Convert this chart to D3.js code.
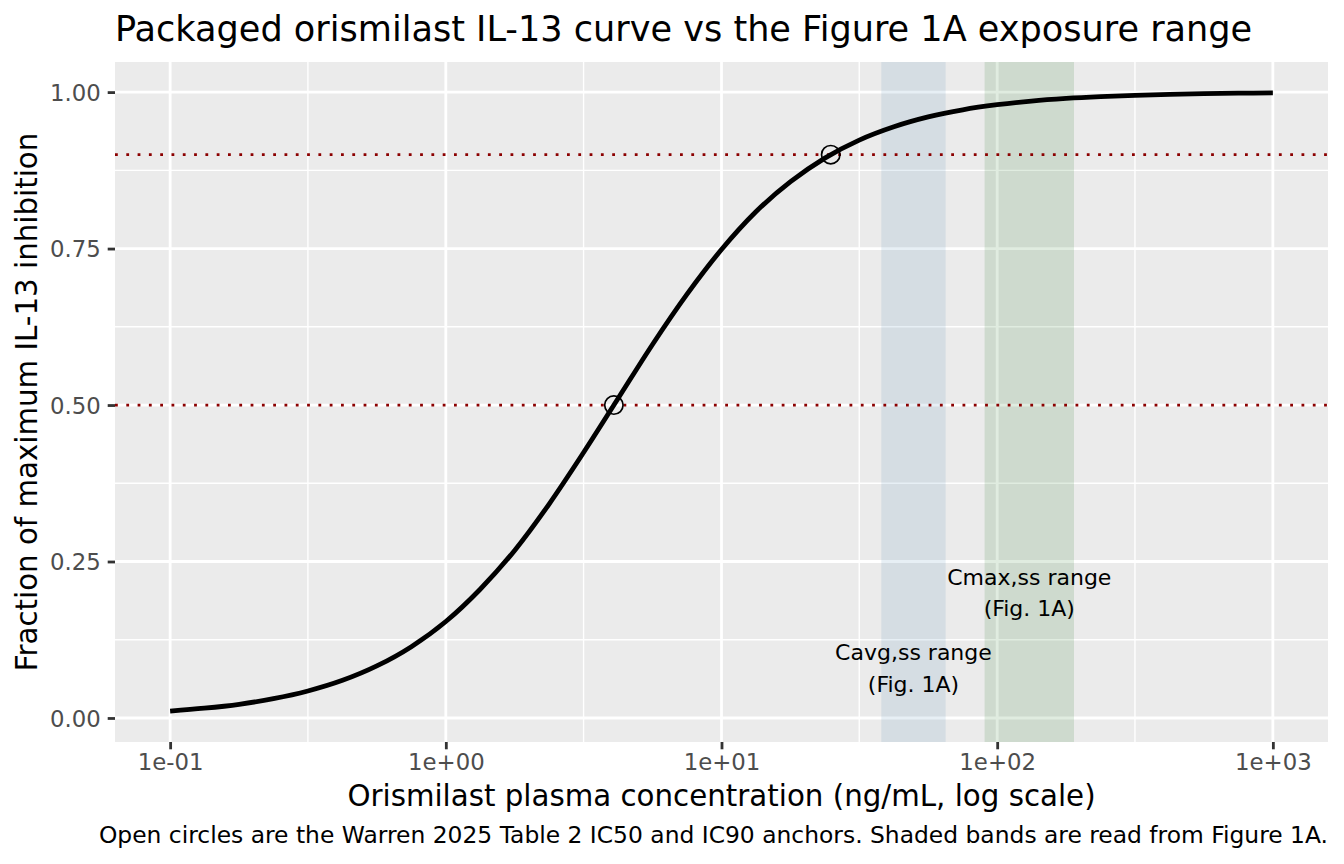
<!DOCTYPE html>
<html>
<head>
<meta charset="utf-8">
<script src="https://cdn.jsdelivr.net/npm/d3@7"></script>
<style>
  body { margin: 0; background: #fff; }
  svg { font-family: "DejaVu Sans", sans-serif; }
</style>
</head>
<body>
<div id="vis"></div>
<script>
// curve (concentration in ng/mL, fraction of max inhibition)
const conc = [0.1, 0.133, 0.178, 0.237, 0.316, 0.422, 0.562, 0.75, 1, 1.33, 1.78, 2.37, 3.16, 4.22,
  5.62, 7.5, 10, 13.3, 17.8, 23.7, 31.6, 42.2, 56.2, 75, 100, 133, 178, 237, 316, 422, 562, 750, 1000]
const inhib = [0.011, 0.0156, 0.0219, 0.0308, 0.0431, 0.0601, 0.0831, 0.1139, 0.1541, 0.2053, 0.2681,
  0.3418, 0.4241, 0.5108, 0.5968, 0.6772, 0.7485, 0.8084, 0.8568, 0.8945, 0.9233, 0.9446, 0.9603,
  0.9717, 0.9798, 0.9857, 0.9899, 0.9928, 0.9949, 0.9964, 0.9975, 0.9982, 0.9987]

// IC50 / IC90 anchors
const anchorConc = [4.07, 24.9]
const anchorFrac = [0.5, 0.9]

// shaded exposure bands from Figure 1A
const bandNames = ["Cavg,ss range", "Cmax,ss range"]
const bandLow = [38, 90]
const bandHigh = [65, 190]
const bandLabelY = [0.08, 0.2]
const bandColors = ["steelblue", "darkgreen"]
const bandAlpha = [0.13, 0.12]

const refLines = [0.5, 0.9]

const xTicks = [0.1, 1, 10, 100, 1000]
const xTickLabels = ["1e-01", "1e+00", "1e+01", "1e+02", "1e+03"]
const xMinor = [0.316, 3.16, 31.6, 316]
const yTicks = [0, 0.25, 0.5, 0.75, 1]
const yTickLabels = ["0.00", "0.25", "0.50", "0.75", "1.00"]
const yMinor = [0.125, 0.375, 0.625, 0.875]

const W = 1344, H = 864
const panel = {left: 115, right: 1328, top: 62, bottom: 742}

const svg = d3.select("#vis").append("svg")
  .attr("width", W).attr("height", H)

//log x with 5% expansion each side
const lx = [Math.log10(d3.min(conc)), Math.log10(d3.max(conc))]
const ex = (lx[1] - lx[0]) * 0.05
const x = d3.scaleLog()
  .domain([Math.pow(10, lx[0] - ex), Math.pow(10, lx[1] + ex)])
  .range([panel.left, panel.right])

const yr = d3.extent(inhib)
const ey = (yr[1] - yr[0]) * 0.05
const y = d3.scaleLinear()
  .domain([yr[0] - ey, yr[1] + ey])
  .range([panel.bottom, panel.top])

//panel background
svg.append("rect")
  .attr("x", panel.left).attr("y", panel.top)
  .attr("width", panel.right - panel.left).attr("height", panel.bottom - panel.top)
  .attr("fill", "#EBEBEB")

const grid = svg.append("g")
grid.selectAll(".xminor").data(xMinor).enter().append("line")
  .attr("x1", d => x(d)).attr("x2", d => x(d))
  .attr("y1", panel.top).attr("y2", panel.bottom)
  .attr("stroke", "#fff").attr("stroke-width", 1.4)
grid.selectAll(".yminor").data(yMinor).enter().append("line")
  .attr("y1", d => y(d)).attr("y2", d => y(d))
  .attr("x1", panel.left).attr("x2", panel.right)
  .attr("stroke", "#fff").attr("stroke-width", 1.4)
grid.selectAll(".xmajor").data(xTicks).enter().append("line")
  .attr("x1", d => x(d)).attr("x2", d => x(d))
  .attr("y1", panel.top).attr("y2", panel.bottom)
  .attr("stroke", "#fff").attr("stroke-width", 2.8)
grid.selectAll(".ymajor").data(yTicks).enter().append("line")
  .attr("y1", d => y(d)).attr("y2", d => y(d))
  .attr("x1", panel.left).attr("x2", panel.right)
  .attr("stroke", "#fff").attr("stroke-width", 2.8)

//bands over the grid, semi transparent
svg.selectAll(".band").data(bandNames).enter().append("rect")
  .attr("x", (d, i) => x(bandLow[i]))
  .attr("width", (d, i) => x(bandHigh[i]) - x(bandLow[i]))
  .attr("y", panel.top).attr("height", panel.bottom - panel.top)
  .attr("fill", (d, i) => bandColors[i])
  .attr("fill-opacity", (d, i) => bandAlpha[i])

//reference lines at IC50 and IC90
svg.selectAll(".ref").data(refLines).enter().append("line")
  .attr("x1", panel.left).attr("x2", panel.right)
  .attr("y1", d => y(d)).attr("y2", d => y(d))
  .attr("stroke", "#8B0000").attr("stroke-width", 2.8)
  .attr("stroke-dasharray", "2.8,8.5")

//band labels, two lines each
const lab = svg.selectAll(".blab").data(bandNames).enter().append("text")
  .attr("text-anchor", "middle")
  .attr("font-size", 22)
  .attr("fill", "#000")
lab.append("tspan")
  .attr("x", (d, i) => x(Math.sqrt(bandLow[i] * bandHigh[i])))
  .attr("y", (d, i) => y(bandLabelY[i]) - 15.8 + 7.8)
  .text(d => d)
lab.append("tspan")
  .attr("x", (d, i) => x(Math.sqrt(bandLow[i] * bandHigh[i])))
  .attr("y", (d, i) => y(bandLabelY[i]) + 15.8 + 7.8)
  .text("(Fig. 1A)")

//curve
const line = d3.line()
  .x((d, i) => x(conc[i]))
  .y((d, i) => y(inhib[i]))
  .curve(d3.curveMonotoneX)
svg.append("path")
  .datum(conc)
  .attr("d", line)
  .attr("fill", "none")
  .attr("stroke", "#000")
  .attr("stroke-width", 4.8)

//anchor circles
svg.selectAll(".anchor").data(anchorConc).enter().append("circle")
  .attr("cx", d => x(d))
  .attr("cy", (d, i) => y(anchorFrac[i]))
  .attr("r", 9.2)
  .attr("fill", "none")
  .attr("stroke", "#000")
  .attr("stroke-width", 1.7)

//axes
const xAxis = svg.append("g")
  .attr("transform", "translate(0," + panel.bottom + ")")
  .call(d3.axisBottom(x).tickValues(xTicks)
    .tickFormat((d, i) => xTickLabels[i]).tickSize(7.3).tickPadding(5))
const yAxis = svg.append("g")
  .attr("transform", "translate(" + panel.left + ",0)")
  .call(d3.axisLeft(y).tickValues(yTicks)
    .tickFormat((d, i) => yTickLabels[i]).tickSize(7.3).tickPadding(7))

for (const ax of [xAxis, yAxis]) {
  ax.select(".domain").remove()
  ax.selectAll(".tick line").attr("stroke", "#333333").attr("stroke-width", 2.8)
  ax.selectAll(".tick text")
    .attr("fill", "#4D4D4D")
    .attr("font-size", 22.8)
    .attr("font-family", "DejaVu Sans")
}
yAxis.selectAll(".tick text").attr("dy", "0.36em")

//titles
svg.append("text")
  .attr("x", panel.left).attr("y", 41)
  .attr("font-size", 35.1)
  .text("Packaged orismilast IL-13 curve vs the Figure 1A exposure range")

svg.append("text")
  .attr("x", (panel.left + panel.right) / 2).attr("y", 806)
  .attr("text-anchor", "middle")
  .attr("font-size", 29.3)
  .text("Orismilast plasma concentration (ng/mL, log scale)")

svg.append("text")
  .attr("transform", "translate(37," + (panel.top + panel.bottom) / 2 + ")rotate(-90)")
  .attr("text-anchor", "middle")
  .attr("font-size", 29.3)
  .text("Fraction of maximum IL-13 inhibition")

svg.append("text")
  .attr("x", panel.right).attr("y", 843)
  .attr("text-anchor", "end")
  .attr("font-size", 23.4)
  .text("Open circles are the Warren 2025 Table 2 IC50 and IC90 anchors. Shaded bands are read from Figure 1A.")
</script>
</body>
</html>
